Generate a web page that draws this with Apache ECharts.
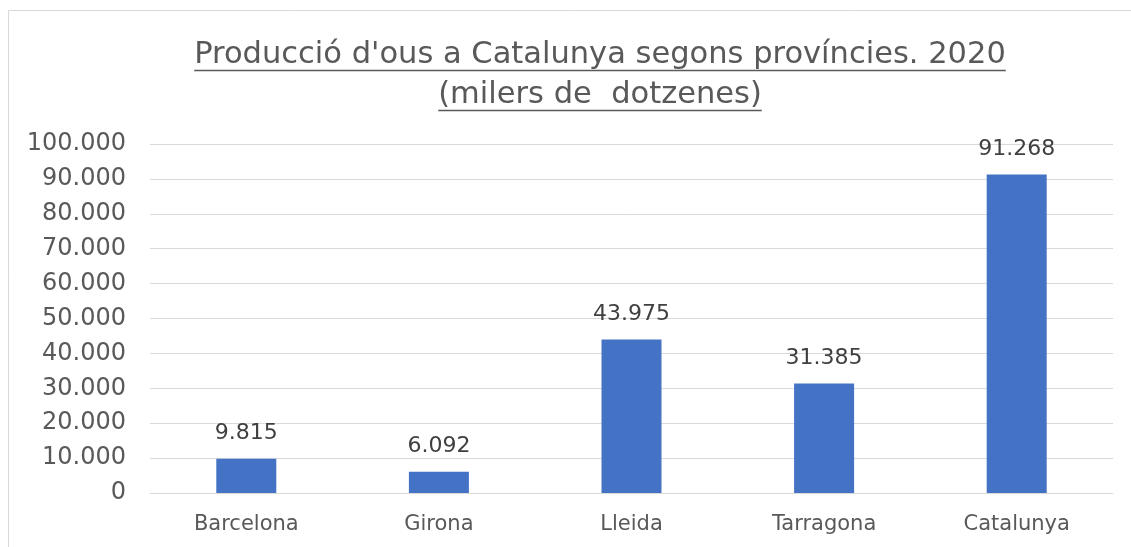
<!DOCTYPE html>
<html>
<head>
<meta charset="utf-8">
<script src="https://cdn.jsdelivr.net/npm/echarts@6/dist/echarts.min.js"></script>
<style>
  html, body { margin: 0; padding: 0; background: #fff; }
  #chart { width: 1131px; height: 547px; }
</style>
</head>
<body>
<div id="chart"></div>
<script>
// dades (milers de dotzenes)
const provincies = ['Barcelona', 'Girona', 'Lleida', 'Tarragona', 'Catalunya']
const produccio = [9815, 6092, 43975, 31385, 91268]
const titleLines = ["Producció d'ous a Catalunya segons províncies. 2020", '(milers de  dotzenes)']

const FONT = '"DejaVu Sans", sans-serif'
const TEXT_COLOR = '#595959'

// format català: punt com a separador de milers
const fmt = v => String(Math.round(v)).replace(/\B(?=(\d{3})+(?!\d))/g, '.')

// amplada del text per subratllar el títol
const measure = (text, size) => {
  const ctx = document.createElement('canvas').getContext('2d')
  ctx.font = size + 'px ' + FONT
  return ctx.measureText(text).width
}

const titleSize = 30.5
const titleX = 600
const underline = (text, y) => {
  const w = measure(text, titleSize)
  return {
    type: 'line',
    shape: { x1: titleX - w / 2, y1: y, x2: titleX + w / 2, y2: y },
    style: { stroke: TEXT_COLOR, lineWidth: 1.5 },
    silent: true
  }
}

const chart = echarts.init(document.getElementById('chart'))

chart.setOption({
  animation: false,
  textStyle: { fontFamily: FONT },
  title: {
    text: titleLines.join('\n'),
    left: titleX,
    top: 35,
    padding: 0,
    textAlign: 'center',
    textStyle: {
      fontFamily: FONT,
      fontSize: titleSize,
      fontWeight: 'normal',
      color: TEXT_COLOR,
      lineHeight: 40
    }
  },
  graphic: [
    // vora del gràfic
    {
      type: 'polyline',
      shape: { points: [[8.5, 560], [8.5, 10.5], [1140, 10.5]] },
      style: { stroke: '#d9d9d9', lineWidth: 1, fill: null },
      silent: true
    },
    underline(titleLines[0], 70.5),
    underline(titleLines[1], 110.5)
  ],
  grid: {
    left: 150,
    right: 18,
    top: 144,
    bottom: 54
  },
  xAxis: {
    type: 'category',
    data: provincies,
    axisLine: { lineStyle: { color: '#d9d9d9' } },
    axisTick: { show: false },
    axisLabel: {
      color: TEXT_COLOR,
      fontSize: 21,
      margin: 21
    }
  },
  yAxis: {
    type: 'value',
    min: 0,
    max: 100000,
    interval: 10000,
    axisLine: { show: false },
    axisTick: { show: false },
    axisLabel: {
      color: TEXT_COLOR,
      fontSize: 24,
      margin: 24,
      formatter: fmt
    },
    splitLine: { lineStyle: { color: '#d9d9d9', width: 1 } }
  },
  series: [
    {
      type: 'bar',
      data: produccio,
      barWidth: 60,
      itemStyle: { color: '#4472C4' },
      label: {
        show: true,
        position: 'top',
        distance: 14,
        color: '#404040',
        fontSize: 22,
        formatter: p => fmt(p.value)
      }
    }
  ]
})
</script>
</body>
</html>
